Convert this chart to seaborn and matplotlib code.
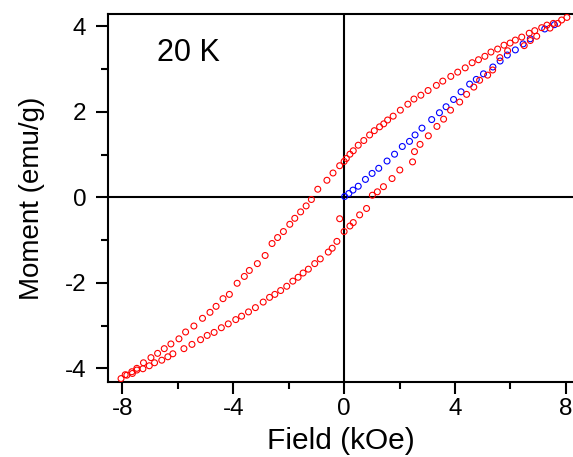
import matplotlib
matplotlib.use("Agg")
import matplotlib.pyplot as plt
import seaborn as sns
import pandas as pd
from matplotlib.ticker import MultipleLocator

# Descending branch (+8 -> -8 kOe), red
desc_field = [8.04, 7.85, 7.55, 7.32, 7.13, 6.88, 6.68, 6.41, 6.18, 5.99, 5.77, 5.54,
              5.30, 5.08, 4.85, 4.62, 4.37, 4.10, 3.85, 3.56, 3.33, 3.03, 2.77, 2.52,
              2.30, 2.03, 1.77, 1.57, 1.43, 1.28, 1.09, 0.92, 0.71, 0.51, 0.33, 0.21,
              0.08, 0.00, -0.16, -0.40, -0.62, -0.95, -1.18, -1.37, -1.57, -1.78, -1.96,
              -2.19, -2.40, -2.60, -2.85, -3.13, -3.42, -3.60, -3.86, -4.14, -4.37, -4.62,
              -4.84, -5.11, -5.42, -5.72, -5.96, -6.25, -6.49, -6.73, -6.97, -7.24, -7.48,
              -7.66, -7.90, -8.05]
desc_moment = [4.21, 4.15, 4.07, 4.03, 3.97, 3.90, 3.84, 3.75, 3.68, 3.61, 3.56, 3.47,
               3.40, 3.30, 3.22, 3.15, 3.03, 2.93, 2.83, 2.72, 2.62, 2.50, 2.39, 2.30,
               2.18, 2.04, 1.90, 1.81, 1.72, 1.65, 1.56, 1.46, 1.33, 1.22, 1.09, 1.01,
               0.91, 0.84, 0.74, 0.57, 0.40, 0.19, -0.05, -0.20, -0.34, -0.49, -0.63,
               -0.80, -0.94, -1.08, -1.36, -1.55, -1.71, -1.85, -2.01, -2.27, -2.37, -2.55,
               -2.69, -2.83, -3.01, -3.15, -3.31, -3.43, -3.54, -3.65, -3.75, -3.87, -4.00,
               -4.08, -4.15, -4.24]

# Ascending branch (-8 -> +8 kOe), red
asc_field = [-7.84, -7.64, -7.48, -7.26, -7.03, -6.84, -6.58, -6.36, -6.18, -5.78, -5.49,
             -5.18, -4.94, -4.69, -4.43, -4.18, -3.91, -3.70, -3.45, -3.20, -2.92, -2.69,
             -2.50, -2.29, -2.07, -1.85, -1.66, -1.48, -1.29, -1.06, -0.86, -0.57, -0.43,
             -0.26, -0.16, 0.00, 0.21, 0.33, 0.56, 0.81, 1.02, 1.20, 1.42, 1.73, 2.01,
             2.47, 2.54, 2.74, 3.04, 3.35, 3.59, 3.84, 4.17, 4.42, 4.68, 4.89, 5.18, 5.36,
             5.62, 5.90, 6.50, 6.72, 6.95, 7.43, 7.71]
asc_moment = [-4.16, -4.12, -4.04, -4.01, -3.94, -3.87, -3.81, -3.73, -3.66, -3.54, -3.44,
              -3.33, -3.23, -3.16, -3.05, -2.96, -2.86, -2.78, -2.68, -2.58, -2.45, -2.34,
              -2.27, -2.18, -2.08, -1.96, -1.87, -1.77, -1.68, -1.55, -1.44, -1.28, -1.19,
              -1.03, -0.50, -0.80, -0.67, -0.59, -0.41, -0.26, 0.05, 0.13, 0.25, 0.44, 0.64,
              0.83, 1.07, 1.24, 1.44, 1.66, 1.83, 2.04, 2.23, 2.41, 2.58, 2.74, 2.86, 2.98,
              3.27, 3.43, 3.55, 3.67, 3.77, 3.96, 4.07]

# Virgin curve, blue
virgin_field = [0.02, 0.17, 0.32, 0.51, 0.77, 1.01, 1.25, 1.55, 1.82, 2.10, 2.36, 2.56,
                2.81, 3.16, 3.44, 3.68, 3.95, 4.22, 4.53, 4.77, 5.03, 5.37, 5.63, 5.89,
                6.18, 6.46, 6.72, 7.24, 7.59]
virgin_moment = [0.02, 0.09, 0.17, 0.26, 0.42, 0.56, 0.68, 0.85, 1.01, 1.19, 1.31, 1.46,
                 1.62, 1.82, 1.98, 2.12, 2.29, 2.47, 2.65, 2.76, 2.89, 3.05, 3.19, 3.33,
                 3.45, 3.59, 3.71, 3.94, 4.04]

x_ticks = [-8, -4, 0, 4, 8]
y_ticks = [-4, -2, 0, 2, 4]

virgin = pd.DataFrame({"Field": virgin_field, "Moment": virgin_moment})
loop = pd.DataFrame({"Field": desc_field + asc_field,
                     "Moment": desc_moment + asc_moment})

sns.set_style("ticks")
plt.rcParams["font.family"] = ["Liberation Sans", "DejaVu Sans"]
plt.rcParams["axes.unicode_minus"] = False
plt.rcParams["text.color"] = "black"
plt.rcParams["axes.labelcolor"] = "black"

fig = plt.figure(figsize=(5.73, 4.57), dpi=100)
ax = fig.add_axes([108 / 573, 75 / 457, 465 / 573, 368 / 457])

ax.axhline(0, color="black", lw=1.5, zorder=1)
ax.axvline(0, color="black", lw=1.5, zorder=1)

sns.scatterplot(data=virgin, x="Field", y="Moment", ax=ax, marker="o", s=18,
                facecolors="none", edgecolor="#0000ff", linewidth=0.8, zorder=2)
sns.scatterplot(data=loop, x="Field", y="Moment", ax=ax, marker="o", s=18,
                facecolors="none", edgecolor="#ff0000", linewidth=0.8, zorder=3)

ax.set_xlim(-8.52, 8.26)
ax.set_ylim(-4.32, 4.29)
ax.set_xticks(x_ticks)
ax.set_yticks(y_ticks)
ax.set_xticklabels([str(t) for t in x_ticks])
ax.set_yticklabels([str(t) for t in y_ticks])
ax.xaxis.set_minor_locator(MultipleLocator(2))
ax.yaxis.set_minor_locator(MultipleLocator(1))
ax.tick_params(which="major", direction="out", length=8.5, width=1.5,
               labelsize=17.5, color="black", labelcolor="black")
ax.tick_params(axis="y", which="major", pad=7)
ax.tick_params(axis="x", which="major", pad=3)
ax.tick_params(which="minor", direction="out", length=5, width=1.5, color="black")

for side in ["left", "bottom", "top"]:
    ax.spines[side].set_linewidth(1.5)
    ax.spines[side].set_color("black")
ax.spines["right"].set_visible(False)

ax.set_xlabel("Field (kOe)", fontsize=21.5, labelpad=5)
ax.set_ylabel("Moment (emu/g)", fontsize=20, labelpad=14)
ax.text(-6.75, 3.19, "20 K", fontsize=22, color="black")

fig.savefig("out.png", dpi=100)
